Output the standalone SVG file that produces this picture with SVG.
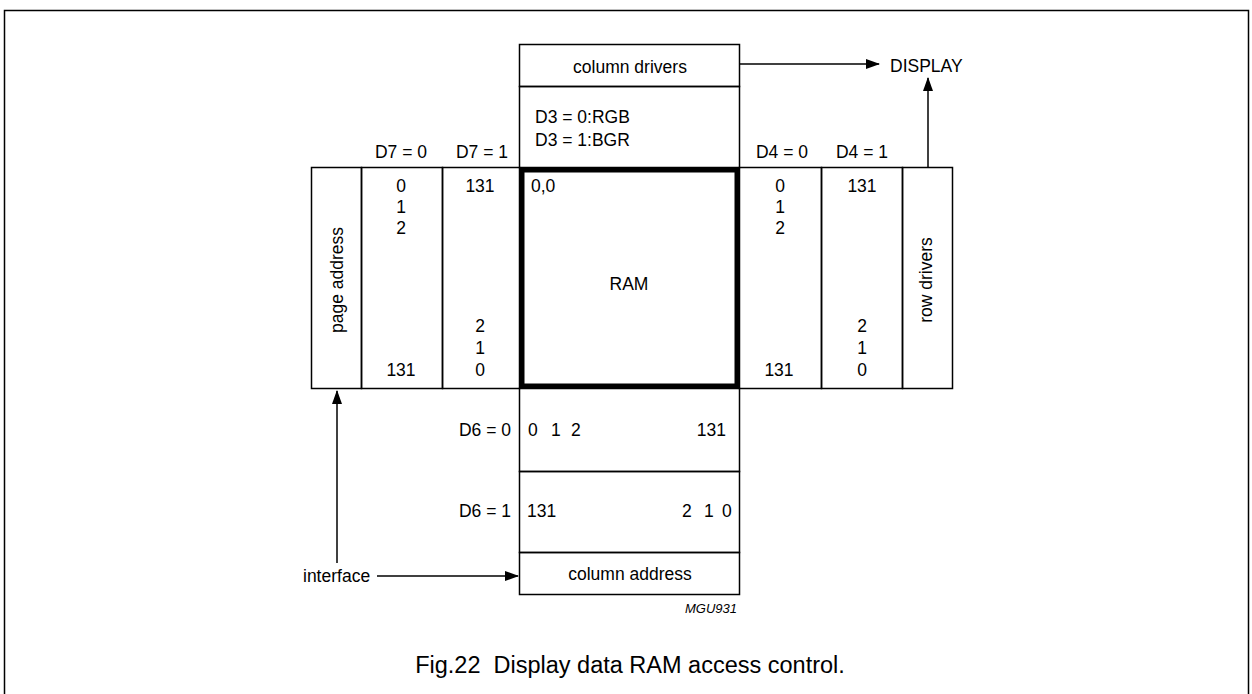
<svg xmlns="http://www.w3.org/2000/svg" width="1252" height="694" viewBox="0 0 1252 694">
<defs>
<style>
text{font-family:"Liberation Sans",Arial,sans-serif;font-size:17.5px;fill:#000}
.c{text-anchor:middle}
.e{text-anchor:end}
.box{fill:none;stroke:#000;stroke-width:1.5}
.ln{stroke:#000;stroke-width:1.5;fill:none}
.ram{fill:none;stroke:#000;stroke-width:5}
</style>
<marker id="ah" markerWidth="14" markerHeight="10" refX="13" refY="5" orient="auto" markerUnits="userSpaceOnUse">
<path d="M0,0 L14,5 L0,10 Z" fill="#000"/>
</marker>
</defs>
<rect width="1252" height="694" fill="#fff"/>
<rect x="4.5" y="10.5" width="1244" height="700" class="box"/>

<g id="column-drivers">
<rect x="519.5" y="44.5" width="220" height="42" class="box"/>
<text x="630" y="72.5" class="c">column drivers</text>
</g>
<g id="rgb-select">
<rect x="519.5" y="86.5" width="220" height="81" class="box"/>
<text x="535" y="123">D3 = 0:RGB</text>
<text x="535" y="146">D3 = 1:BGR</text>
</g>
<g id="page-address">
<rect x="311.5" y="167.5" width="50" height="221" class="box"/>
<text transform="translate(343,280) rotate(-90)" class="c">page address</text>
</g>
<g id="d7-0">
<text x="401" y="158" class="c">D7 = 0</text>
<rect x="361.5" y="167.5" width="81" height="221" class="box"/>
<text x="401" y="192" class="c">0</text>
<text x="401" y="213" class="c">1</text>
<text x="401" y="234" class="c">2</text>
<text x="401" y="376" class="c">131</text>
</g>
<g id="d7-1">
<text x="482" y="158" class="c">D7 = 1</text>
<rect x="442.5" y="167.5" width="77" height="221" class="box"/>
<text x="480" y="192" class="c">131</text>
<text x="480" y="332" class="c">2</text>
<text x="480" y="354" class="c">1</text>
<text x="480" y="376" class="c">0</text>
</g>
<g id="ram">
<rect x="522" y="170" width="215" height="216" class="ram"/>
<text x="531" y="192">0,0</text>
<text x="629" y="290" class="c">RAM</text>
</g>
<g id="d4-0">
<text x="782" y="158" class="c">D4 = 0</text>
<rect x="739.5" y="167.5" width="82" height="221" class="box"/>
<text x="780" y="192" class="c">0</text>
<text x="780" y="213" class="c">1</text>
<text x="780" y="234" class="c">2</text>
<text x="779" y="376" class="c">131</text>
</g>
<g id="d4-1">
<text x="862" y="158" class="c">D4 = 1</text>
<rect x="821.5" y="167.5" width="81" height="221" class="box"/>
<text x="862" y="192" class="c">131</text>
<text x="862" y="332" class="c">2</text>
<text x="862" y="354" class="c">1</text>
<text x="862" y="376" class="c">0</text>
</g>
<g id="row-drivers">
<rect x="902.5" y="167.5" width="50" height="221" class="box"/>
<text transform="translate(932,280) rotate(-90)" class="c">row drivers</text>
</g>
<g id="d6-0">
<text x="511" y="436" class="e">D6 = 0</text>
<rect x="519.5" y="388.5" width="220" height="83" class="box"/>
<text x="528" y="436">0</text>
<text x="551" y="436">1</text>
<text x="571" y="436">2</text>
<text x="726" y="436" class="e">131</text>
</g>
<g id="d6-1">
<text x="511" y="517" class="e">D6 = 1</text>
<rect x="519.5" y="471.5" width="220" height="81" class="box"/>
<text x="527" y="517">131</text>
<text x="682" y="517">2</text>
<text x="704" y="517">1</text>
<text x="722" y="517">0</text>
</g>
<g id="column-address">
<rect x="519.5" y="552.5" width="220" height="42" class="box"/>
<text x="630" y="580" class="c">column address</text>
</g>
<g id="display">
<text x="890" y="72">DISPLAY</text>
</g>
<g id="interface">
<text x="303" y="582">interface</text>
</g>

<g id="connectors">
<line x1="740" y1="64" x2="879" y2="64" class="ln" marker-end="url(#ah)"/>
<line x1="928" y1="167" x2="928" y2="78" class="ln" marker-end="url(#ah)"/>
<line x1="337" y1="563" x2="337" y2="391" class="ln" marker-end="url(#ah)"/>
<line x1="377" y1="576" x2="518" y2="576" class="ln" marker-end="url(#ah)"/>
</g>

<text x="737" y="613" class="e" style="font-size:13px;font-style:italic">MGU931</text>
<text x="630" y="673" class="c" style="font-size:23.5px;white-space:pre" xml:space="preserve">Fig.22  Display data RAM access control.</text>
</svg>
